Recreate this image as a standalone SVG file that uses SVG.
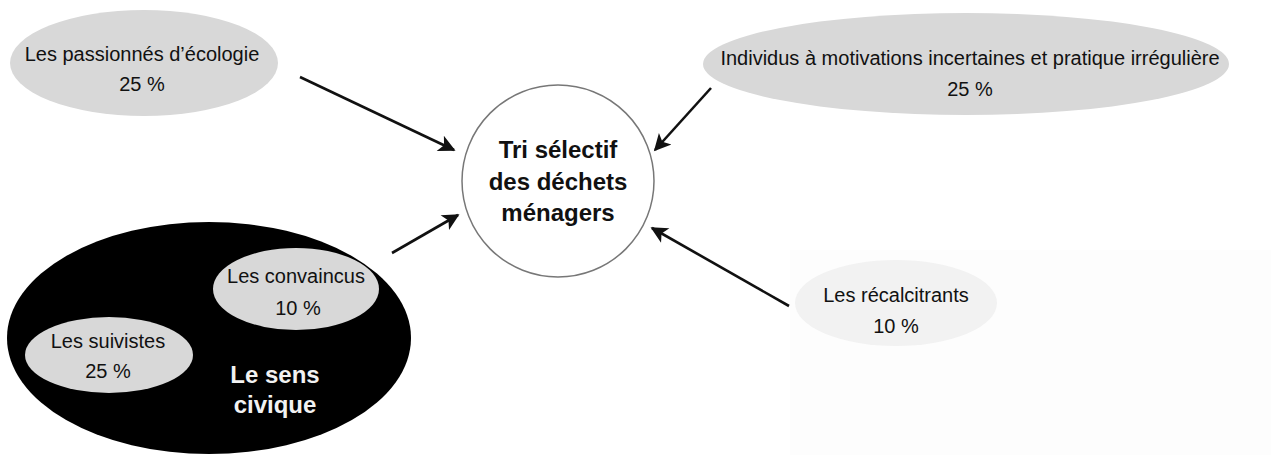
<svg xmlns="http://www.w3.org/2000/svg" width="1271" height="455" viewBox="0 0 1271 455">
<style>
.t{font-family:"Liberation Sans",Arial,sans-serif;font-size:20px;fill:#111;text-anchor:middle}
.b{font-family:"Liberation Sans",Arial,sans-serif;font-size:24px;font-weight:bold;fill:#111;text-anchor:middle}
.w{fill:#f2f2f2}
.g{fill:#d8d8d8}
.c{stroke:#111;stroke-width:2.6;fill:none;marker-end:url(#ah)}
</style>
<defs>
<marker id="ah" viewBox="0 0 10 10" refX="9" refY="5" markerWidth="8" markerHeight="6.5" orient="auto" markerUnits="strokeWidth">
<path d="M0,0 L10,5 L0,10 L2.5,5 Z" fill="#111"/>
</marker>
</defs>
<rect width="1271" height="455" fill="#ffffff"/>
<rect x="790" y="250" width="481" height="205" fill="#fdfdfd"/>
<g id="connectors">
<line class="c" x1="300" y1="77" x2="454" y2="150"/>
<line class="c" x1="711" y1="88" x2="655" y2="150"/>
<line class="c" x1="392" y1="253" x2="458" y2="215"/>
<line class="c" x1="789" y1="306" x2="652" y2="228"/>
</g>
<g id="center">
<circle cx="558" cy="181" r="96" fill="#fff" stroke="#777" stroke-width="1.5"/>
<text class="b" x="558" y="158">Tri sélectif</text>
<text class="b" x="558" y="190">des déchets</text>
<text class="b" x="558" y="221">ménagers</text>
</g>
<g id="passionnes">
<ellipse class="g" cx="144" cy="63" rx="134" ry="53"/>
<text class="t" x="142" y="61">Les passionnés d’écologie</text>
<text class="t" x="142" y="91">25 %</text>
</g>
<g id="individus">
<ellipse class="g" cx="966" cy="64" rx="263" ry="51"/>
<text class="t" x="970" y="65">Individus à motivations incertaines et pratique irrégulière</text>
<text class="t" x="970" y="96">25 %</text>
</g>
<g id="recalcitrants">
<ellipse class="w" cx="896" cy="303" rx="101" ry="43"/>
<text class="t" x="896" y="302">Les récalcitrants</text>
<text class="t" x="896" y="333">10 %</text>
</g>
<g id="sens-civique">
<ellipse cx="209" cy="338" rx="202" ry="116" fill="#000"/>
<text class="b" x="275" y="383" style="fill:#f2f2f2">Le sens</text>
<text class="b" x="275" y="413" style="fill:#f2f2f2">civique</text>
</g>
<g id="convaincus">
<ellipse class="g" cx="296" cy="289" rx="83" ry="41"/>
<text class="t" x="296" y="283">Les convaincus</text>
<text class="t" x="298" y="315">10 %</text>
</g>
<g id="suivistes">
<ellipse class="g" cx="109" cy="355" rx="84" ry="38"/>
<text class="t" x="108" y="348">Les suivistes</text>
<text class="t" x="108" y="378">25 %</text>
</g>
</svg>
